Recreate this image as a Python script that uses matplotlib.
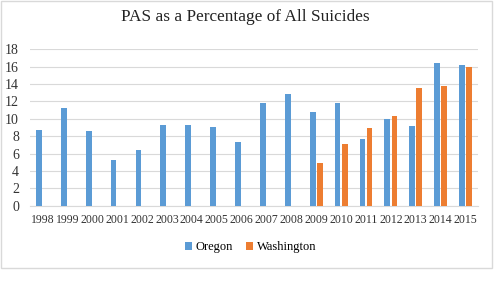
import numpy as np
import matplotlib
matplotlib.use('Agg')
from matplotlib import pyplot as plt
from matplotlib.patches import Rectangle

years = ['1998', '1999', '2000', '2001', '2002', '2003', '2004', '2005', '2006',
         '2007', '2008', '2009', '2010', '2011', '2012', '2013', '2014', '2015']
oregon = [8.7, 11.3, 8.6, 5.3, 6.4, 9.3, 9.3, 9.1, 7.3,
          11.8, 12.9, 10.8, 11.8, 7.7, 10.0, 9.2, 16.4, 16.2]
washington = [0, 0, 0, 0, 0, 0, 0, 0, 0,
              0, 0, 4.9, 7.1, 9.0, 10.3, 13.5, 13.8, 16.0]
yticks = [0, 2, 4, 6, 8, 10, 12, 14, 16, 18]

plt.rcParams['font.family'] = ['Liberation Serif', 'DejaVu Serif']

fig = plt.figure(figsize=(5.01, 2.82), dpi=100)
fig.patches.append(Rectangle((0.001, 1 - 268 / 282), 491 / 501, 267 / 282,
                             transform=fig.transFigure, fill=False,
                             edgecolor='#d9d9d9', linewidth=1.0))

ax = fig.add_axes([0.06, 0.2706, 0.894, 0.5544])
x = np.arange(len(years))
w = 0.23
ax.bar(x - 0.143, oregon, w, color='#5b9bd5', label='Oregon', zorder=3)
ax.bar(x + 0.143, washington, w, color='#ed7d31', label='Washington', zorder=3)

ax.set_xlim(-0.5, len(years) - 0.5)
ax.set_ylim(0, 18)
ax.set_yticks(yticks)
ax.set_xticks(x)
ax.set_xticklabels(years, fontsize=8.5, color='#333333')
ax.tick_params(axis='y', labelsize=10, colors='#333333', length=0, pad=8)
ax.tick_params(axis='x', length=0, pad=6)
ax.grid(axis='y', color='#d9d9d9', linewidth=0.8, zorder=0)
for s in ['top', 'right', 'left']:
    ax.spines[s].set_visible(False)
ax.spines['bottom'].set_color('#d9d9d9')

fig.text(0.49, 1 - 17 / 282, 'PAS as a Percentage of All Suicides',
         ha='center', va='center', fontsize=12.4, color='#222222')

fig.legend(loc='center', bbox_to_anchor=(0.5, 1 - 247 / 282), ncol=2,
           frameon=False, fontsize=9, handlelength=0.6, handleheight=0.6,
           handletextpad=0.3, columnspacing=1.0)

plt.savefig('out.png', dpi=100)
